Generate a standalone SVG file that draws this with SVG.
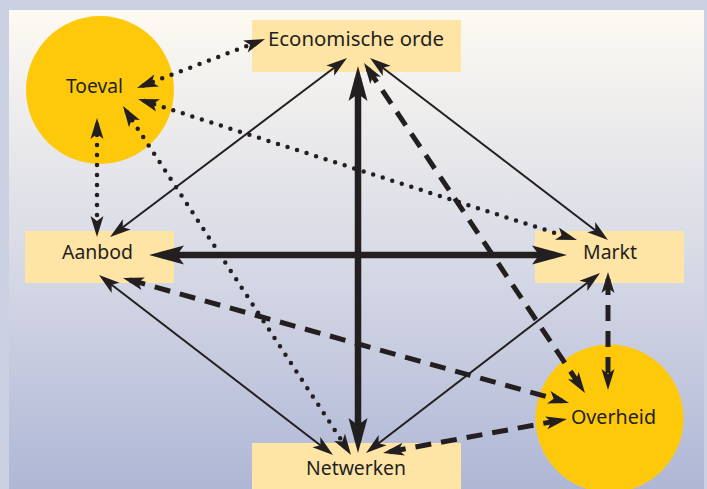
<svg xmlns="http://www.w3.org/2000/svg" width="707" height="489" viewBox="0 0 707 489">
<defs>
<linearGradient id="bg" x1="0" y1="0" x2="0" y2="1">
<stop offset="0" stop-color="#fdfaf2"/>
<stop offset="0.5" stop-color="#d9dbe6"/>
<stop offset="1" stop-color="#afb7d6"/>
</linearGradient>
<marker id="ah" markerUnits="userSpaceOnUse" markerWidth="40" markerHeight="40" viewBox="-20 -20 40 40" refX="0" refY="0" orient="auto-start-reverse" overflow="visible">
<path d="M7,0 L-14,-6.5 L-9,0 L-14,6.5 Z" fill="#231f20"/>
</marker>
<marker id="ahb" markerUnits="userSpaceOnUse" markerWidth="60" markerHeight="60" viewBox="-30 -30 60 60" refX="0" refY="0" orient="auto-start-reverse" overflow="visible">
<path d="M12,0 L-23,-9.5 L-16,0 L-23,9.5 Z" fill="#231f20"/>
</marker>
</defs>
<style>
.rect{fill:#ffe5a5}
.circ{fill:#ffc90b}
.lbl{font-family:"Noto Sans","Open Sans","DejaVu Sans",sans-serif;font-size:20px;fill:#231f20}
.c{fill:none;stroke:#231f20;marker-start:url(#ah);marker-end:url(#ah)}
.thin{stroke-width:2}
.dot{stroke-width:4.5;stroke-linecap:round;stroke-dasharray:0 10}
.dash{stroke-width:5;stroke-dasharray:16 10}
.thick{stroke-width:6.5;marker-start:url(#ahb);marker-end:url(#ahb)}
</style>
<rect x="0" y="0" width="707" height="489" fill="#cbd0e3"/>
<rect x="9" y="10" width="695" height="479" fill="url(#bg)"/>

<g id="node-economische-orde">
<rect class="rect" x="252" y="20" width="209" height="52"/>
<text class="lbl" x="268" y="46" textLength="176" lengthAdjust="spacingAndGlyphs">Economische orde</text>
</g>
<g id="node-toeval">
<circle class="circ" cx="100" cy="90" r="74"/>
<text class="lbl" x="66" y="93" textLength="57" lengthAdjust="spacingAndGlyphs">Toeval</text>
</g>
<g id="node-aanbod">
<rect class="rect" x="25" y="231" width="149" height="52"/>
<text class="lbl" x="62" y="259" textLength="71" lengthAdjust="spacingAndGlyphs">Aanbod</text>
</g>
<g id="node-markt">
<rect class="rect" x="535" y="231" width="149" height="52"/>
<text class="lbl" x="583" y="259" textLength="54" lengthAdjust="spacingAndGlyphs">Markt</text>
</g>
<g id="node-overheid">
<circle class="circ" cx="609.5" cy="418.5" r="74"/>
<text class="lbl" x="571" y="424" textLength="85" lengthAdjust="spacingAndGlyphs">Overheid</text>
</g>
<g id="node-netwerken">
<rect class="rect" x="252" y="443" width="209" height="50"/>
<text class="lbl" x="306" y="475" textLength="100" lengthAdjust="spacingAndGlyphs">Netwerken</text>
</g>

<g id="connectors">
<!-- thick -->
<path class="c thick" d="M358,78 L358,441"/>
<path class="c thick" d="M161,255 L555,255"/>
<!-- thin solid -->
<path class="c thin" d="M115.6,232.8 L341.4,62.2"/>
<path class="c thin" d="M375.6,62.3 L602.4,235.7"/>
<path class="c thin" d="M104.5,279.3 L327.5,450.7"/>
<path class="c thin" d="M371.5,448.7 L594.5,277.3"/>
<!-- dotted -->
<path class="c dot" d="M143.5,85.5 L258.5,41.5"/>
<path class="c dot" d="M144.7,101.1 L570.3,237.9"/>
<path class="c dot" d="M126.8,111.9 L347.2,449.1"/>
<path class="c dot" d="M97,125 L97,230"/>
<!-- dashed -->
<path class="c dash" d="M129.7,279.9 L562.3,401.1"/>
<path class="c dash" d="M389.9,451.7 L560.1,420.3"/>
<path class="c dash" d="M367.9,68.8 L581.1,387.2"/>
<path class="c dash" d="M608,279 L608,383"/>
</g>
</svg>
